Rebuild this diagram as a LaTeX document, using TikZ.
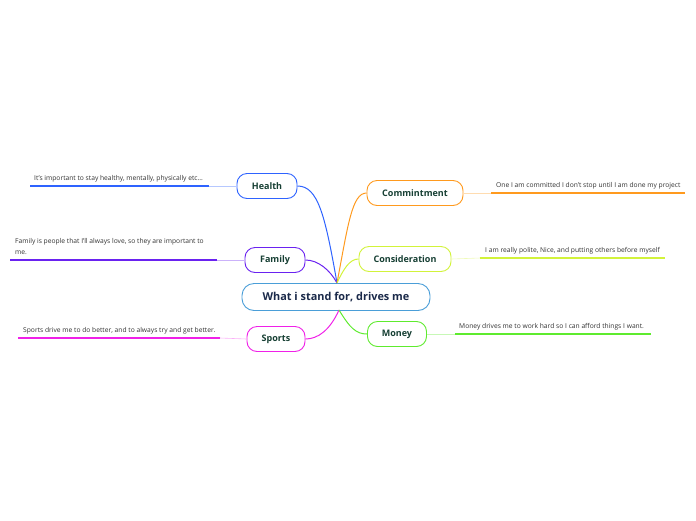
\documentclass[tikz,border=0pt]{standalone}
\usepackage{fontspec}
\setmainfont{Open Sans}
\usepackage{xcolor}

\definecolor{rootline}{HTML}{4A9ED8}
\definecolor{roottext}{HTML}{1B2A4A}
\definecolor{topictext}{HTML}{163F33}
\definecolor{healthc}{HTML}{2E63FF}
\definecolor{familyc}{HTML}{6A22F0}
\definecolor{sportsc}{HTML}{F020E8}
\definecolor{commitc}{HTML}{FF9A1E}
\definecolor{considc}{HTML}{D2F33A}
\definecolor{moneyc}{HTML}{5EEB2E}

\tikzset{
  topic/.style={draw=#1, line width=0.9pt, rounded corners=10pt, fill=white,
    minimum height=25pt, inner sep=0pt, font=\fontsize{9}{10}\selectfont\bfseries,
    text=topictext},
  branch/.style={draw=#1, line width=1pt},
  twig/.style={draw=#1!35, line width=0.6pt},
  leafline/.style={draw=#1, line width=1.6pt},
  leaf/.style={anchor=base west, inner sep=0pt, font=\fontsize{6.7}{11}\selectfont,
    text=black!80, align=left}
}

\begin{document}
\begin{tikzpicture}[x=1pt,y=-1pt]
  \useasboundingbox (0,0) rectangle (696,520);

  \node [topic=rootline, minimum width=188pt, minimum height=27pt, rounded corners=12pt,
    font=\fontsize{10.9}{12}\selectfont\bfseries, text=roottext] (R) at (336,297) {What i stand for, drives me};
  \coordinate (Rt) at (337,283);
  \coordinate (Rb) at (339,310);

  % left side
  \node [topic=healthc, minimum width=60pt] (H) at (267,186) {Health};
  \node [topic=familyc, minimum width=60pt] (F) at (275,260) {Family};
  \node [topic=sportsc, minimum width=58pt] (S) at (276,339) {Sports};

  % right side
  \node [topic=commitc, minimum width=96pt] (C) at (415,193) {Commintment};
  \node [topic=considc, minimum width=92pt] (N) at (405,259) {Consideration};
  \node [topic=moneyc, minimum width=59pt] (M) at (397,334) {Money};

  \draw [branch=healthc] (Rt) .. controls (325,215) and (318,186) .. (H.east);
  \draw [branch=familyc] (Rt) .. controls (330,270) and (318,260) .. (F.east);
  \draw [branch=sportsc] (Rb) .. controls (330,330) and (318,339) .. (S.east);
  \draw [branch=commitc] (Rt) .. controls (348,225) and (352,193) .. (C.west);
  \draw [branch=considc] (Rt) .. controls (344,268) and (350,259) .. (N.west);
  \draw [branch=moneyc] (Rb) .. controls (350,328) and (356,334) .. (M.west);

  % leaves
  \coordinate (Hk) at (209,186); \coordinate (He) at (30,186);
  \draw [twig=healthc] (H.west) -- (Hk);
  \draw [leafline=healthc] (Hk) -- (He);
  \node [leaf] (Ht) at (34,180) {It's important to stay healthy, mentally, physically etc...};

  \coordinate (Fk) at (217,260); \coordinate (Fe) at (10,260);
  \draw [twig=familyc] (F.west) -- (Fk);
  \draw [leafline=familyc] (Fk) -- (Fe);
  \node [leaf] (Ft) at (15,254.5) {Family is people that I'll always love, so they are important to\\me.};

  \coordinate (Sk) at (220,338); \coordinate (Se) at (18,338);
  \draw [twig=sportsc] (S.west) -- (Sk);
  \draw [leafline=sportsc] (Sk) -- (Se);
  \node [leaf] (St) at (23,332) {Sports drive me to do better, and to always try and get better.};

  \coordinate (Ck) at (491,193); \coordinate (Ce) at (685,193);
  \draw [twig=commitc] (C.east) -- (Ck);
  \draw [leafline=commitc] (Ck) -- (Ce);
  \node [leaf] (Ct) at (496,187) {One I am committed I don't stop until I am done my project};

  \coordinate (Nk) at (480,258); \coordinate (Ne) at (665,258);
  \draw [twig=considc] (N.east) -- (Nk);
  \draw [leafline=considc] (Nk) -- (Ne);
  \node [leaf] (Nt) at (485,252) {I am really polite, Nice, and putting others before myself};

  \coordinate (Mk) at (455,334); \coordinate (Me) at (651,334);
  \draw [twig=moneyc] (M.east) -- (Mk);
  \draw [leafline=moneyc] (Mk) -- (Me);
  \node [leaf] (Mt) at (459,328) {Money drives me to work hard so I can afford things I want.};
\end{tikzpicture}
\end{document}
